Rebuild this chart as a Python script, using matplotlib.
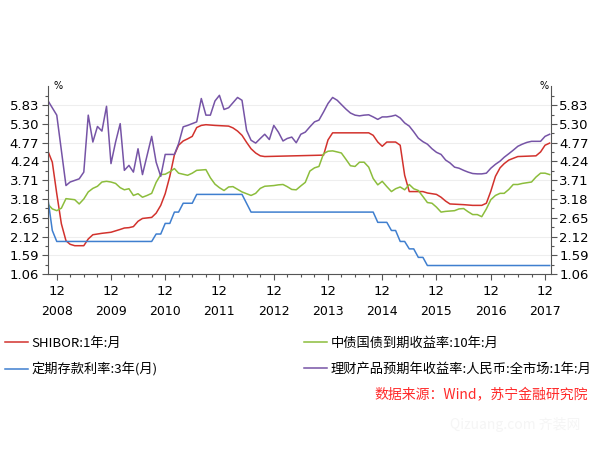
import matplotlib
matplotlib.use("Agg")
import matplotlib.pyplot as plt
import matplotlib.dates as mdates
import pandas as pd
from matplotlib.ticker import FixedLocator, NullFormatter

# SHIBOR:1年:月
shibor_dates = ["2008-10", "2008-11", "2008-12", "2009-01", "2009-02", "2009-03", "2009-04",
                "2009-06", "2009-07", "2009-08", "2009-10", "2009-12", "2010-02", "2010-03",
                "2010-04", "2010-05", "2010-06", "2010-07", "2010-09", "2010-10", "2010-11",
                "2010-12", "2011-01", "2011-02", "2011-03", "2011-04", "2011-05", "2011-06",
                "2011-07", "2011-08", "2011-09", "2011-11", "2012-02", "2012-03", "2012-04",
                "2012-05", "2012-06", "2012-07", "2012-08", "2012-09", "2012-10", "2013-11",
                "2013-12", "2014-01", "2014-09", "2014-10", "2014-11", "2014-12", "2015-01",
                "2015-03", "2015-04", "2015-05", "2015-06", "2015-09", "2015-10", "2015-12",
                "2016-01", "2016-02", "2016-03", "2016-06", "2016-08", "2016-10", "2016-11",
                "2016-12", "2017-01", "2017-02", "2017-03", "2017-04", "2017-05", "2017-06",
                "2017-10", "2017-11", "2017-12", "2018-01"]
shibor_vals = [4.55, 4.22, 3.33, 2.48, 2.00, 1.90, 1.86,
               1.86, 2.05, 2.17, 2.21, 2.24, 2.32, 2.36,
               2.37, 2.40, 2.55, 2.63, 2.66, 2.78, 3.00,
               3.33, 3.82, 4.43, 4.70, 4.82, 4.88, 4.95,
               5.20, 5.26, 5.28, 5.26, 5.24, 5.19, 5.10,
               4.98, 4.78, 4.60, 4.48, 4.40, 4.38, 4.42,
               4.85, 5.05, 5.05, 4.98, 4.79, 4.67, 4.79,
               4.79, 4.70, 3.85, 3.39, 3.39, 3.35, 3.31,
               3.23, 3.12, 3.04, 3.02, 3.00, 3.00, 3.06,
               3.40, 3.82, 4.06, 4.18, 4.28, 4.33, 4.38,
               4.40, 4.51, 4.70, 4.76]

# 中债国债到期收益率:10年:月
bond_dates = ["2008-10", "2008-11", "2008-12", "2009-01", "2009-02", "2009-04", "2009-05",
              "2009-06", "2009-07", "2009-08", "2009-09", "2009-10", "2009-11", "2009-12",
              "2010-01", "2010-02", "2010-03", "2010-04", "2010-05", "2010-06", "2010-07",
              "2010-08", "2010-09", "2010-10", "2010-11", "2010-12", "2011-01", "2011-02",
              "2011-03", "2011-05", "2011-06", "2011-07", "2011-09", "2011-10", "2011-11",
              "2011-12", "2012-01", "2012-02", "2012-03", "2012-05", "2012-07", "2012-08",
              "2012-09", "2012-10", "2012-12", "2013-01", "2013-02", "2013-03", "2013-04",
              "2013-05", "2013-06", "2013-07", "2013-08", "2013-09", "2013-10", "2013-11",
              "2013-12", "2014-01", "2014-02", "2014-03", "2014-04", "2014-05", "2014-06",
              "2014-07", "2014-08", "2014-09", "2014-10", "2014-11", "2014-12", "2015-01",
              "2015-02", "2015-03", "2015-04", "2015-05", "2015-06", "2015-07", "2015-08",
              "2015-09", "2015-10", "2015-11", "2015-12", "2016-01", "2016-02", "2016-04",
              "2016-05", "2016-06", "2016-07", "2016-08", "2016-09", "2016-10", "2016-11",
              "2016-12", "2017-01", "2017-02", "2017-03", "2017-04", "2017-05", "2017-06",
              "2017-07", "2017-08", "2017-09", "2017-10", "2017-11", "2017-12", "2018-01"]
bond_vals = [3.04, 2.90, 2.85, 2.92, 3.19, 3.16, 3.04,
             3.18, 3.38, 3.48, 3.54, 3.66, 3.68, 3.66,
             3.62, 3.50, 3.44, 3.47, 3.28, 3.33, 3.23,
             3.28, 3.34, 3.65, 3.87, 3.88, 3.95, 4.04,
             3.91, 3.85, 3.91, 3.99, 4.01, 3.78, 3.60,
             3.50, 3.42, 3.52, 3.53, 3.38, 3.28, 3.34,
             3.48, 3.54, 3.56, 3.58, 3.59, 3.53, 3.45,
             3.44, 3.55, 3.65, 3.97, 4.06, 4.10, 4.46,
             4.53, 4.54, 4.51, 4.48, 4.30, 4.12, 4.10,
             4.22, 4.22, 4.08, 3.76, 3.58, 3.68, 3.53,
             3.39, 3.47, 3.52, 3.44, 3.59, 3.47, 3.42,
             3.25, 3.08, 3.06, 2.95, 2.81, 2.83, 2.85,
             2.90, 2.91, 2.82, 2.74, 2.74, 2.68, 2.90,
             3.16, 3.28, 3.34, 3.34, 3.45, 3.59, 3.59,
             3.62, 3.64, 3.66, 3.80, 3.91, 3.91, 3.87]

# 定期存款利率:3年(月)
deposit_dates = ["2008-10", "2008-11", "2008-12", "2010-09", "2010-10", "2010-11", "2010-12",
                 "2011-01", "2011-02", "2011-03", "2011-04", "2011-06", "2011-07", "2012-05",
                 "2012-07", "2014-10", "2014-11", "2015-01", "2015-02", "2015-03", "2015-04",
                 "2015-05", "2015-06", "2015-07", "2015-08", "2015-09", "2015-10", "2018-01"]
deposit_vals = [3.23, 2.29, 1.98, 1.98, 2.19, 2.19, 2.49,
                2.49, 2.81, 2.81, 3.06, 3.06, 3.31, 3.31,
                2.81, 2.81, 2.52, 2.52, 2.29, 2.29, 1.98,
                1.98, 1.77, 1.77, 1.53, 1.53, 1.30, 1.30]

# 理财产品预期年收益率:人民币:全市场:1年:月
wealth_dates = ["2008-10", "2008-12", "2009-02", "2009-03", "2009-05", "2009-06", "2009-07",
                "2009-08", "2009-09", "2009-10", "2009-11", "2009-12", "2010-01", "2010-02",
                "2010-03", "2010-04", "2010-05", "2010-06", "2010-07", "2010-08", "2010-09",
                "2010-10", "2010-11", "2010-12", "2011-02", "2011-03", "2011-04", "2011-05",
                "2011-07", "2011-08", "2011-09", "2011-10", "2011-11", "2011-12", "2012-01",
                "2012-02", "2012-04", "2012-05", "2012-06", "2012-07", "2012-08", "2012-09",
                "2012-10", "2012-11", "2012-12", "2013-01", "2013-02", "2013-03", "2013-04",
                "2013-05", "2013-06", "2013-07", "2013-08", "2013-09", "2013-10", "2013-11",
                "2013-12", "2014-01", "2014-02", "2014-03", "2014-04", "2014-05", "2014-06",
                "2014-07", "2014-08", "2014-09", "2014-10", "2014-11", "2014-12", "2015-01",
                "2015-02", "2015-03", "2015-04", "2015-05", "2015-06", "2015-07", "2015-08",
                "2015-09", "2015-10", "2015-11", "2015-12", "2016-01", "2016-02", "2016-03",
                "2016-04", "2016-05", "2016-06", "2016-07", "2016-08", "2016-09", "2016-10",
                "2016-11", "2016-12", "2017-01", "2017-02", "2017-03", "2017-04", "2017-05",
                "2017-06", "2017-07", "2017-08", "2017-09", "2017-10", "2017-11", "2017-12",
                "2018-01"]
wealth_vals = [5.97, 5.55, 3.56, 3.66, 3.75, 3.94, 5.55,
               4.79, 5.23, 5.10, 5.80, 4.18, 4.79, 5.31,
               3.99, 4.13, 3.94, 4.60, 3.87, 4.41, 4.95,
               4.22, 3.82, 4.44, 4.44, 4.74, 5.22, 5.26,
               5.36, 6.02, 5.55, 5.55, 5.95, 6.11, 5.71,
               5.76, 6.05, 5.97, 5.12, 4.84, 4.76, 4.89,
               5.01, 4.86, 5.26, 5.07, 4.82, 4.89, 4.93,
               4.77, 5.01, 5.07, 5.22, 5.36, 5.41, 5.64,
               5.88, 6.05, 5.97, 5.85, 5.72, 5.61, 5.55,
               5.53, 5.55, 5.56, 5.50, 5.43, 5.50, 5.50,
               5.52, 5.55, 5.47, 5.33, 5.24, 5.08, 4.90,
               4.80, 4.73, 4.60, 4.50, 4.44, 4.28, 4.20,
               4.08, 4.05, 3.99, 3.94, 3.90, 3.89, 3.89,
               3.91, 4.05, 4.16, 4.25, 4.36, 4.46, 4.56,
               4.67, 4.73, 4.78, 4.81, 4.81, 4.81, 4.95,
               5.01]

y_ticks = [1.06, 1.59, 2.12, 2.65, 3.18, 3.71, 4.24, 4.77, 5.30, 5.83]
y_minor = [1.325, 1.855, 2.385, 2.915, 3.445, 3.975, 4.505, 5.035, 5.565, 6.095]
years = list(range(2008, 2018))

cjk = ["Noto Sans CJK SC", "DejaVu Sans"]
axis_col = "#555555"

fig = plt.figure(figsize=(6, 4.5), dpi=100)
ax = fig.add_axes([0.0795, 0.3911, 0.8388, 0.4167])

l_shibor, = ax.plot(pd.to_datetime(shibor_dates), shibor_vals, color="#d2322d", lw=1.1)
l_bond, = ax.plot(pd.to_datetime(bond_dates), bond_vals, color="#8cbd3c", lw=1.1)
l_dep, = ax.plot(pd.to_datetime(deposit_dates), deposit_vals, color="#3f7fcf", lw=1.1)
l_wealth, = ax.plot(pd.to_datetime(wealth_dates), wealth_vals, color="#7654a6", lw=1.1)

ax.set_xlim(pd.Timestamp("2008-10-01"), pd.Timestamp("2018-01-10"))
ax.set_ylim(1.06, 6.36)

ax.yaxis.set_major_locator(FixedLocator(y_ticks))
ax.yaxis.set_minor_locator(FixedLocator(y_minor))
ax.set_yticklabels(["%.2f" % v for v in y_ticks])
ax.xaxis.set_major_locator(mdates.MonthLocator(bymonth=12))
ax.xaxis.set_major_formatter(mdates.DateFormatter("%m"))
ax.xaxis.set_minor_locator(mdates.MonthLocator(bymonth=(3, 6, 9)))
ax.xaxis.set_minor_formatter(NullFormatter())

ax.tick_params(axis="both", which="major", direction="out", length=4, width=0.8,
               color=axis_col, labelsize=9.5, pad=2)
ax.tick_params(axis="both", which="minor", direction="out", length=2.5, width=0.8,
               color=axis_col)
ax.tick_params(axis="y", which="both", left=True, right=True, labelleft=True, labelright=True)
ax.tick_params(axis="x", which="major", pad=4)

ax.yaxis.grid(True, color="#eeeeee", lw=0.8)
ax.set_axisbelow(True)
ax.spines["top"].set_visible(False)
for s in ["left", "right", "bottom"]:
    ax.spines[s].set_color(axis_col)
    ax.spines[s].set_linewidth(0.8)

# year row under the "12" tick labels
for yr in years:
    ax.annotate(str(yr), xy=(pd.Timestamp(f"{yr}-12-01"), 0), xycoords=("data", "axes fraction"),
                xytext=(0, -37), textcoords="offset pixels", ha="center", va="center", fontsize=9)

fig.text(53 / 600, 1 - 86 / 450, "%", fontsize=7, ha="left", va="center")
fig.text(549 / 600, 1 - 86 / 450, "%", fontsize=7, ha="right", va="center")

leg_kw = dict(loc="upper left", frameon=False, prop={"family": cjk, "size": 9.5},
              handlelength=1.75, handletextpad=0.25, labelspacing=0.95,
              borderpad=0, borderaxespad=0)
fig.legend([l_shibor, l_dep], ["SHIBOR:1年:月", "定期存款利率:3年(月)"],
           bbox_to_anchor=(5 / 600, 1 - 337 / 450), **leg_kw)
fig.legend([l_bond, l_wealth], ["中债国债到期收益率:10年:月", "理财产品预期年收益率:人民币:全市场:1年:月"],
           bbox_to_anchor=(304 / 600, 1 - 337 / 450), **leg_kw)

fig.text(588 / 600, 1 - 395 / 450, "数据来源：Wind，苏宁金融研究院", ha="right", va="center",
         color="#ff2a2a", fontsize=10, family=cjk, style="italic")
fig.text(515 / 600, 1 - 425 / 450, "Qizuang.com 齐装网", ha="center", va="center",
         color="#f5f5f5", fontsize=10, family=cjk)

fig.savefig("out.png", dpi=100)
